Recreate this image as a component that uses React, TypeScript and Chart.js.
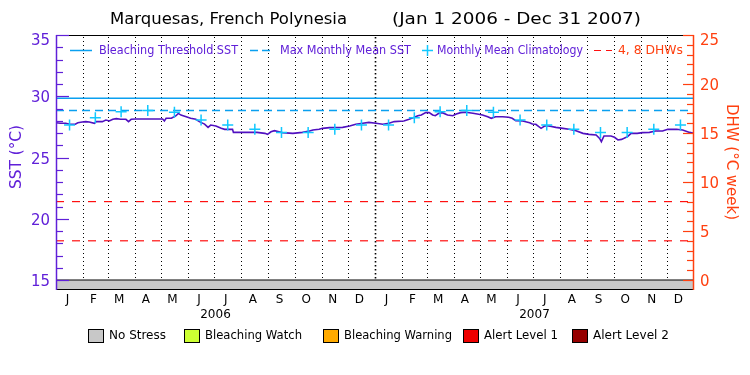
import React, { useEffect, useRef } from 'react';
import { Chart, registerables } from 'chart.js';
Chart.register(...registerables);

const TITLE_SITE = 'Marquesas, French Polynesia';
const TITLE_RANGE = '(Jan 1 2006 - Dec 31 2007)';
const MONTH_LABELS = ['J', 'F', 'M', 'A', 'M', 'J', 'J', 'A', 'S', 'O', 'N', 'D'];
const MONTH_DAYS = [31, 28, 31, 30, 31, 30, 31, 31, 30, 31, 30, 31];
const YEARS = ['2006', '2007'];

// day index since Jan 1 2006
const SST_DAYS = [
  0, 5, 11, 16, 22, 25, 30, 34, 38, 44, 46, 53, 57, 61, 65, 69, 74, 80, 83, 86, 91, 100, 110, 122, 124, 126, 132, 137,
  140, 143, 149, 154, 160, 164, 170, 174, 177, 183, 189, 193, 202, 203, 215, 230, 239, 242, 246, 250, 255, 259, 271,
  282, 290, 294, 301, 305, 313, 328, 336, 343, 351, 358, 366, 374, 381, 387, 398, 404, 410, 414, 418, 423, 427, 431,
  434, 438, 442, 448, 454, 458, 463, 469, 477, 482, 488, 494, 498, 503, 511, 518, 522, 526, 534, 542, 545, 549, 555,
  559, 564, 572, 580, 587, 595, 603, 610, 618, 622, 624, 627, 635, 639, 643, 647, 650, 654, 658, 665, 671, 679, 686,
  694, 700, 710, 717, 725, 730,
];
const SST_VALUES = [
  27.84, 27.8, 27.8, 27.72, 27.72, 27.84, 27.9, 27.93, 27.9, 27.79, 27.93, 27.93, 28.06, 27.98, 28.12, 28.17, 28.12,
  28.12, 27.93, 28.12, 28.14, 28.14, 28.14, 28.14, 27.98, 28.2, 28.2, 28.39, 28.6, 28.46, 28.33, 28.2, 28.12, 27.93,
  27.73, 27.46, 27.65, 27.57, 27.38, 27.3, 27.3, 27.05, 27.05, 27.05, 26.97, 26.89, 27.1, 27.19, 27.1, 27.03, 26.97,
  27.05, 27.16, 27.24, 27.3, 27.38, 27.44, 27.46, 27.57, 27.71, 27.79, 27.87, 27.79, 27.71, 27.79, 27.93, 27.98,
  28.12, 28.28, 28.41, 28.47, 28.66, 28.66, 28.47, 28.41, 28.61, 28.66, 28.47, 28.41, 28.55, 28.66, 28.69, 28.61,
  28.55, 28.47, 28.33, 28.2, 28.33, 28.33, 28.28, 28.2, 28.01, 27.98, 27.84, 27.73, 27.71, 27.38, 27.57, 27.57,
  27.46, 27.38, 27.3, 27.19, 26.97, 26.89, 26.84, 26.56, 26.29, 26.76, 26.76, 26.65, 26.43, 26.48, 26.57, 26.7,
  26.97, 26.97, 27.03, 27.05, 27.16, 27.16, 27.3, 27.3, 27.24, 27.05, 26.97,
];
const CLIMATOLOGY = [27.65, 28.25, 28.74, 28.84, 28.69, 28.06, 27.65, 27.3, 27.05, 27.05, 27.3, 27.65];
const MAX_MONTHLY_MEAN = 28.84;
const BLEACHING_THRESHOLD = 29.84;
const DHW_LEVELS = [4, 8];
const STRESS_LABELS = ['No Stress', 'Bleaching Watch', 'Bleaching Warning', 'Alert Level 1', 'Alert Level 2'];
const STRESS_COLORS = ['#c8c8c8', '#ccff33', '#ffaa00', '#ee0000', '#960000'];
// stress periods: start day, end day, level
const STRESS_START = [0];
const STRESS_END = [730];
const STRESS_LEVEL = [0];

const SST_MIN = 15, SST_MAX = 35, DHW_MIN = 0, DHW_MAX = 25;

const PURPLE = '#6020d8';
const SST_COLOR = '#5010c0';
const RED_AXIS = '#ff4010';
const CYAN = '#0aa0f0';
const CROSS = '#10c8ff';
const FONT = '"DejaVu Sans", sans-serif';

function monthStarts(): number[] {
  const s: number[] = [];
  let d = 0;
  for (let y = 0; y < YEARS.length; y++) {
    for (let m = 0; m < 12; m++) {
      s.push(d);
      d += MONTH_DAYS[m];
    }
  }
  s.push(d);
  return s;
}

function fitText(c: CanvasRenderingContext2D, text: string, x: number, y: number, width: number) {
  const w = c.measureText(text).width;
  c.save();
  c.textAlign = 'left';
  c.translate(x, y);
  c.scale(width / w, 1);
  c.fillText(text, 0, 0);
  c.restore();
}

export default function App() {
  const ref = useRef<HTMLCanvasElement>(null);
  useEffect(() => {
    document.body.style.margin = '0';
    const starts = monthStarts();
    const totalDays = starts[starts.length - 1];
    const mids = starts.slice(0, -1).map((s, i) => (s + starts[i + 1]) / 2);
    const sst = SST_DAYS.map((d, i) => ({ x: d, y: SST_VALUES[i] }));
    const clim = mids.map((d, i) => ({ x: d, y: CLIMATOLOGY[i % 12] }));
    const bandPx = 10;
    const plotH = 255;
    const sstPerPx = (SST_MAX - SST_MIN) / (plotH - bandPx);
    const dhwPerPx = (DHW_MAX - DHW_MIN) / (plotH - bandPx);

    const datasets: any[] = [
      {
        type: 'scatter', label: 'Monthly Mean Climatology', data: clim, yAxisID: 'y',
        pointStyle: 'cross', pointRadius: 5.5, borderColor: CROSS, backgroundColor: CROSS, pointBorderWidth: 1.5,
        showLine: false,
      },
      {
        type: 'line', label: 'SST', data: sst, yAxisID: 'y', borderColor: SST_COLOR, borderWidth: 1.6,
        pointRadius: 0, fill: false, tension: 0,
      },
      {
        type: 'line', label: 'Bleaching Threshold SST',
        data: [{ x: 0, y: BLEACHING_THRESHOLD }, { x: totalDays, y: BLEACHING_THRESHOLD }],
        yAxisID: 'y', borderColor: CYAN, borderWidth: 1.5, pointRadius: 0,
      },
      {
        type: 'line', label: 'Max Monthly Mean SST',
        data: [{ x: 0, y: MAX_MONTHLY_MEAN }, { x: totalDays, y: MAX_MONTHLY_MEAN }],
        yAxisID: 'y', borderColor: CYAN, borderWidth: 1.5, borderDash: [8, 5], pointRadius: 0,
      },
      ...DHW_LEVELS.map((lv) => ({
        type: 'line', label: '4, 8 DHWs',
        data: [{ x: 0, y: lv }, { x: totalDays, y: lv }],
        yAxisID: 'y2', borderColor: '#ff1010', borderWidth: 1.2, borderDash: [8, 8], pointRadius: 0,
      })),
      ...STRESS_START.map((s, i) => ({
        type: 'line', label: STRESS_LABELS[STRESS_LEVEL[i]],
        data: [{ x: s, y: SST_MIN }, { x: STRESS_END[i], y: SST_MIN }],
        yAxisID: 'y', borderColor: '#000', borderWidth: 1, pointRadius: 0,
        fill: 'start', backgroundColor: STRESS_COLORS[STRESS_LEVEL[i]],
      })),
    ];

    const decor = {
      id: 'decor',
      beforeDatasetsDraw(chart: any) {
        const c = chart.ctx;
        const a = chart.chartArea;
        const xs = chart.scales.x, ys = chart.scales.y;
        const y15 = ys.getPixelForValue(SST_MIN);
        c.save();
        c.strokeStyle = '#000';
        for (let i = 1; i < starts.length - 1; i++) {
          const x = Math.round(xs.getPixelForValue(starts[i])) + 0.5;
          const yearEdge = i % 12 === 0;
          c.lineWidth = yearEdge ? 1.6 : 1;
          c.setLineDash(yearEdge ? [1.5, 2.5] : [1, 3]);
          c.beginPath();
          c.moveTo(x, a.top + 2);
          c.lineTo(x, y15 - 1);
          c.stroke();
        }
        c.restore();
      },
      afterDatasetsDraw(chart: any) {
        const c = chart.ctx;
        const a = chart.chartArea;
        const xs = chart.scales.x, ys = chart.scales.y, y2 = chart.scales.y2;
        c.save();
        c.setLineDash([]);
        c.lineWidth = 1;
        c.strokeStyle = '#000';
        c.beginPath();
        c.moveTo(a.left, a.top + 0.5); c.lineTo(a.right, a.top + 0.5);
        c.moveTo(a.left, a.bottom - 0.5); c.lineTo(a.right, a.bottom - 0.5);
        c.stroke();
        c.strokeStyle = PURPLE;
        c.lineWidth = 1.5;
        c.beginPath(); c.moveTo(a.left + 0.5, a.top); c.lineTo(a.left + 0.5, a.bottom); c.stroke();
        c.strokeStyle = RED_AXIS;
        c.beginPath(); c.moveTo(a.right - 0.5, a.top); c.lineTo(a.right - 0.5, a.bottom); c.stroke();

        // left ticks
        c.lineWidth = 1.2;
        c.strokeStyle = PURPLE;
        c.fillStyle = PURPLE;
        c.font = `16px ${FONT}`;
        c.textAlign = 'right';
        c.textBaseline = 'middle';
        for (let v = SST_MIN; v <= SST_MAX; v++) {
          const y = Math.round(ys.getPixelForValue(v)) + 0.5;
          const len = v % 5 === 0 ? 13 : 7;
          c.beginPath(); c.moveTo(a.left, y); c.lineTo(a.left + len, y); c.stroke();
          if (v % 5 === 0) fitText(c, String(v), a.left - 25, Math.max(y + 1, a.top + 6), 19);
        }
        // right ticks
        c.strokeStyle = RED_AXIS;
        c.fillStyle = RED_AXIS;
        for (let v = DHW_MIN; v <= DHW_MAX; v++) {
          const y = Math.round(y2.getPixelForValue(v)) + 0.5;
          const len = v % 5 === 0 ? 11 : 7;
          c.beginPath(); c.moveTo(a.right, y); c.lineTo(a.right - len, y); c.stroke();
          if (v % 5 === 0) {
            const s = String(v);
            fitText(c, s, a.right + 6, Math.max(y + 1, a.top + 6), s.length * 9.5);
          }
        }
        // axis titles
        c.font = `16px ${FONT}`;
        c.fillStyle = PURPLE;
        c.save();
        c.translate(17, 157);
        c.rotate(-Math.PI / 2);
        fitText(c, 'SST (°C)', -32, 0, 64);
        c.restore();
        c.fillStyle = RED_AXIS;
        c.save();
        c.translate(731, 162);
        c.rotate(Math.PI / 2);
        fitText(c, 'DHW (°C week)', -58, 0, 116);
        c.restore();

        // month labels and years
        c.fillStyle = '#000';
        c.font = `12px ${FONT}`;
        c.textAlign = 'center';
        mids.forEach((d, i) => c.fillText(MONTH_LABELS[i % 12], xs.getPixelForValue(d) - 2, a.bottom + 10));
        YEARS.forEach((yr, i) => {
          const x = (xs.getPixelForValue(starts[i * 12]) + xs.getPixelForValue(starts[i * 12 + 12])) / 2;
          c.fillText(yr, x, a.bottom + 25);
        });

        // title
        c.font = `16px ${FONT}`;
        fitText(c, TITLE_SITE, 110, 20, 237);
        fitText(c, TITLE_RANGE, 392, 20, 249);

        // top legend
        const ly = 50.5;
        c.font = `12.5px ${FONT}`;
        c.lineWidth = 1.5;
        c.strokeStyle = CYAN;
        c.beginPath(); c.moveTo(70, ly); c.lineTo(92, ly); c.stroke();
        c.fillStyle = PURPLE;
        fitText(c, datasets[2].label, 99, ly, 139);
        c.setLineDash([8, 4]);
        c.beginPath(); c.moveTo(250, ly); c.lineTo(272, ly); c.stroke();
        c.setLineDash([]);
        fitText(c, datasets[3].label, 280, ly, 131);
        c.strokeStyle = CROSS;
        c.beginPath(); c.moveTo(422, ly); c.lineTo(433, ly); c.moveTo(427.5, ly - 5.5); c.lineTo(427.5, ly + 5.5); c.stroke();
        fitText(c, datasets[0].label, 437, ly, 146);
        c.strokeStyle = '#ff1010';
        c.lineWidth = 1.2;
        c.setLineDash([7, 5]);
        c.beginPath(); c.moveTo(594, ly); c.lineTo(612, ly); c.stroke();
        c.setLineDash([]);
        c.fillStyle = RED_AXIS;
        fitText(c, datasets[4].label, 618, ly, 65);

        // bottom stress legend
        const bx = [88, 184, 323, 463, 572];
        const tw = [57, 97, 108, 74, 76];
        c.font = `12.5px ${FONT}`;
        c.lineWidth = 1;
        c.strokeStyle = '#000';
        STRESS_LABELS.forEach((lab, i) => {
          c.fillStyle = STRESS_COLORS[i];
          c.fillRect(bx[i], 329, 15, 13);
          c.strokeRect(bx[i] + 0.5, 329.5, 15, 13);
          c.fillStyle = '#000';
          fitText(c, lab, bx[i] + 21, 336, tw[i]);
        });
        c.restore();
      },
    };

    const chart = new Chart(ref.current as HTMLCanvasElement, {
      type: 'line',
      data: { datasets },
      options: {
        responsive: false,
        animation: false,
        devicePixelRatio: 1,
        layout: { padding: { left: 56, right: 56, top: 35, bottom: 85 } },
        plugins: { legend: { display: false }, tooltip: { enabled: false }, title: { display: false } },
        scales: {
          x: { type: 'linear', min: 0, max: totalDays, display: false },
          y: { type: 'linear', min: SST_MIN - bandPx * sstPerPx, max: SST_MAX, display: false },
          y2: { type: 'linear', position: 'right', min: DHW_MIN - bandPx * dhwPerPx, max: DHW_MAX, display: false },
        },
      } as any,
      plugins: [decor],
    });
    return () => chart.destroy();
  }, []);
  return (
    <div style={{ width: 750, height: 375, background: '#fff' }}>
      <canvas ref={ref} width={750} height={375} style={{ display: 'block' }} />
    </div>
  );
}
